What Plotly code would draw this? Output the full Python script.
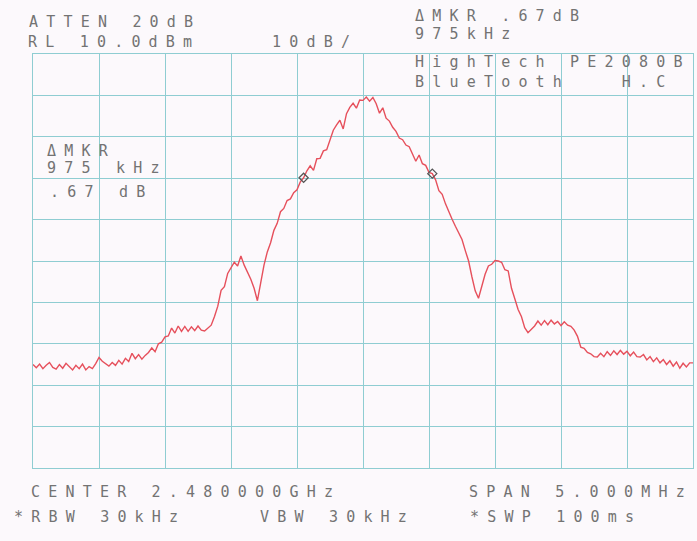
import numpy as np
import plotly.graph_objects as go

# ---------------- data ----------------
CENTER_MHZ = 2480.0
SPAN_MHZ = 5.0
REF_LEVEL_DBM = 10.0
DB_PER_DIV = 10.0

# trace levels (dBm), 201 sweep points across the span
levels_dbm = [
    -65.0, -65.8, -64.9, -66.0, -65.2, -64.5, -65.7, -66.1, -65.0, -65.9,
    -64.7, -65.5, -66.3, -65.2, -66.0, -64.9, -66.3, -65.5, -66.0, -64.8,
    -63.3, -64.2, -64.9, -65.4, -64.5, -65.2, -64.0, -64.9, -63.5, -64.3,
    -62.3, -63.6, -62.6, -63.7, -62.8, -62.1, -61.0, -61.9, -60.0, -59.6,
    -58.3, -58.1, -56.2, -57.4, -55.7, -57.0, -55.8, -57.0, -55.9, -56.8,
    -55.7, -56.7, -56.9, -56.1, -55.5, -53.4, -50.9, -47.1, -46.2, -43.0,
    -41.5, -40.3, -41.2, -38.8, -41.0, -42.7, -44.4, -46.6, -49.6, -45.3,
    -41.0, -37.8, -35.6, -32.6, -30.9, -28.1, -27.3, -25.4, -25.0, -23.5,
    -22.8, -20.9, -19.9, -18.2, -17.0, -18.1, -15.3, -15.2, -13.4, -13.1,
    -10.7, -8.4, -7.1, -6.0, -8.1, -4.4, -2.9, -1.9, -3.1, -1.1,
    -1.2, -0.4, -1.4, -0.5, -2.0, -4.3, -3.0, -5.5, -6.2, -7.7,
    -8.7, -10.3, -10.7, -12.0, -12.4, -14.3, -15.9, -14.4, -16.5, -16.9,
    -18.6, -18.9, -20.4, -23.0, -23.9, -26.2, -28.3, -29.9, -31.6, -33.4,
    -34.8, -37.5, -40.0, -43.8, -47.2, -49.0, -46.3, -43.2, -41.2, -40.8,
    -39.9, -40.0, -40.3, -42.1, -42.4, -46.6, -49.1, -51.7, -53.4, -56.1,
    -57.3, -56.6, -55.7, -54.5, -55.5, -54.4, -55.4, -54.3, -55.2, -54.6,
    -55.6, -54.7, -55.5, -55.8, -56.7, -58.2, -60.8, -61.1, -62.1, -62.4,
    -63.1, -63.2, -62.3, -63.1, -61.9, -62.8, -61.7, -62.6, -61.6, -62.5,
    -61.8, -62.9, -62.0, -63.1, -63.2, -62.6, -63.9, -63.1, -64.3, -63.4,
    -64.6, -63.8, -65.0, -64.1, -65.4, -64.4, -65.9, -64.7, -65.6, -64.6,
    -64.6,
]
freq_mhz = np.linspace(CENTER_MHZ - SPAN_MHZ / 2, CENTER_MHZ + SPAN_MHZ / 2, len(levels_dbm))

marker_indices = [82, 121]

header_texts = ["ATTEN 20dB", "RL 10.0dBm", "10dB/", "\u0394MKR .67dB", "975kHz",
                "HighTech PE2080B", "BlueTooth   H.C",
                "\u0394MKR", "975 kHz", ".67 dB"]
footer_texts = ["CENTER 2.480000GHz", "SPAN 5.000MHz",
                "*RBW 30kHz", "VBW 30kHz", "*SWP 100ms"]

# ---------------- layout constants (pixels) ----------------
W, H = 697, 541
L, R, T, B = 33, 693, 54, 468
text_pos = [(27, 22), (26, 42), (270, 42), (413, 16), (413, 34),
            (413, 62), (413, 82), (45, 151), (45, 168), (48, 192),
            (29, 492), (467, 492), (12, 517), (258, 517), (468, 517)]

GRID = "#8fcdd2"
RED = "#e6505c"
TXT = "#737373"
BG = "#fcf9fc"

fig = go.Figure()
fig.add_trace(go.Scatter(x=freq_mhz, y=levels_dbm, mode="lines",
                         line=dict(color=RED, width=1.4), hoverinfo="skip"))
fig.add_trace(go.Scatter(x=[freq_mhz[i] for i in marker_indices],
                         y=[levels_dbm[i] for i in marker_indices],
                         mode="markers",
                         marker=dict(symbol="diamond-open", size=7,
                                     color="#555555", line=dict(width=1.3)),
                         hoverinfo="skip"))

annotations = []
for txt, (px, py) in zip(header_texts + footer_texts, text_pos):
    annotations.append(dict(
        text=txt, xref="paper", yref="paper",
        x=(px - L) / (R - L), y=(B - py) / (B - T),
        xanchor="left", yanchor="middle", align="left", showarrow=False,
        font=dict(family="DejaVu Sans Mono", size=15, color=TXT)))

ylo = REF_LEVEL_DBM - 10 * DB_PER_DIV
axis_common = dict(showgrid=True, gridcolor=GRID, gridwidth=1.4,
                   showline=True, linecolor=GRID, linewidth=1.4, mirror=True,
                   zeroline=False, showticklabels=False, ticks="", fixedrange=True)
fig.update_layout(
    width=W, height=H,
    margin=dict(l=L, r=W - R, t=T, b=H - B, pad=0),
    paper_bgcolor=BG, plot_bgcolor=BG,
    showlegend=False,
    xaxis=dict(range=[CENTER_MHZ - SPAN_MHZ / 2, CENTER_MHZ + SPAN_MHZ / 2],
               dtick=SPAN_MHZ / 10, tick0=CENTER_MHZ, **axis_common),
    yaxis=dict(range=[ylo, REF_LEVEL_DBM], dtick=DB_PER_DIV, tick0=ylo, **axis_common),
    annotations=annotations,
)

post = """
var st = document.createElement('style');
st.innerHTML = 'html,body{margin:0;padding:0;overflow:hidden;background:#fcf9fc;} .annotation-text{letter-spacing:8.2px;}';
document.head.appendChild(st);
"""
fig.write_html("out.html", post_script=post, config={"displayModeBar": False})
